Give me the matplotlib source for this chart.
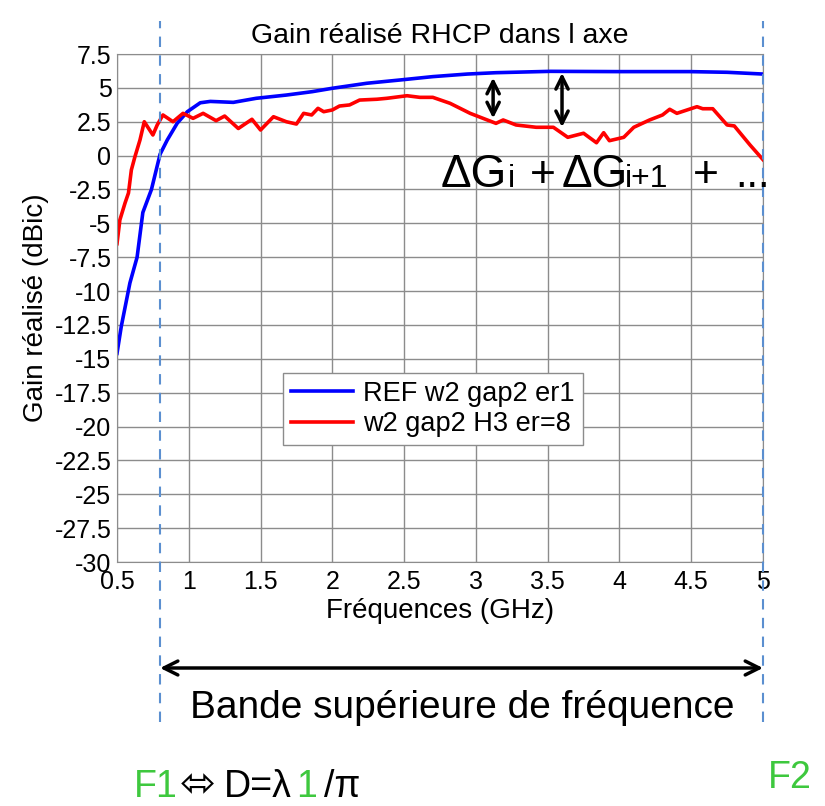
import numpy as np
import matplotlib
matplotlib.use("Agg")
import matplotlib.pyplot as plt

plt.rcParams['font.family'] = ['Liberation Sans', 'DejaVu Sans']
plt.rcParams['axes.unicode_minus'] = False

# REF w2 gap2 er1 (blue)
freq_ref = [0.5, 0.53, 0.59, 0.64, 0.68, 0.74, 0.8, 0.85, 0.92, 0.99,
            1.08, 1.15, 1.31, 1.47, 1.68, 1.86, 2.0, 2.24, 2.47, 2.7,
            2.94, 3.14, 3.52, 3.98, 4.49, 4.75, 5.0]
gain_ref = [-14.6, -12.6, -9.4, -7.5, -4.2, -2.5, 0.1, 1.15, 2.4, 3.24,
            3.9, 4.0, 3.93, 4.23, 4.47, 4.72, 4.97, 5.34, 5.58, 5.83,
            6.02, 6.12, 6.22, 6.2, 6.2, 6.15, 6.02]

# w2 gap2 H3 er=8 (red)
freq_h3 = [0.5, 0.52, 0.556, 0.58, 0.60, 0.625, 0.66, 0.69, 0.75, 0.78,
           0.82, 0.89, 0.96, 1.03, 1.10, 1.19, 1.25, 1.345, 1.44, 1.50,
           1.59, 1.68, 1.75, 1.80, 1.856, 1.90, 1.94, 2.0, 2.05, 2.12,
           2.19, 2.31, 2.38, 2.52, 2.61, 2.70, 2.82, 2.96, 3.05, 3.14,
           3.19, 3.28, 3.42, 3.54, 3.64, 3.75, 3.84, 3.89, 3.93, 4.03,
           4.10, 4.21, 4.30, 4.35, 4.40, 4.54, 4.58, 4.65, 4.75, 4.80,
           4.91, 5.0]
gain_h3 = [-6.5, -4.75, -3.5, -2.76, -1.06, -0.08, 1.15, 2.5, 1.52, 2.26,
           3.0, 2.5, 3.12, 2.75, 3.12, 2.58, 2.92, 2.0, 2.68, 1.89,
           2.87, 2.5, 2.33, 3.12, 3.0, 3.49, 3.24, 3.37, 3.66, 3.74,
           4.1, 4.16, 4.23, 4.42, 4.3, 4.3, 3.86, 3.12, 2.75, 2.38,
           2.63, 2.26, 2.09, 2.09, 1.35, 1.65, 0.95, 1.69, 1.1, 1.35,
           2.09, 2.63, 3.0, 3.42, 3.12, 3.61, 3.46, 3.46, 2.26, 2.19,
           0.78, -0.3]

x_ticks = [0.5, 1, 1.5, 2, 2.5, 3, 3.5, 4, 4.5, 5]
x_labels = ['0.5', '1', '1.5', '2', '2.5', '3', '3.5', '4', '4.5', '5']
y_ticks = [7.5, 5, 2.5, 0, -2.5, -5, -7.5, -10, -12.5, -15, -17.5, -20,
           -22.5, -25, -27.5, -30]
y_labels = ['7.5', '5', '2.5', '0', '-2.5', '-5', '-7.5', '-10', '-12.5', '-15',
            '-17.5', '-20', '-22.5', '-25', '-27.5', '-30']

# band limits F1 / F2 (GHz) and the two delta-gain arrows
f1, f2 = 0.8, 5.0
delta_arrows = [(3.12, 5.75, 2.75), (3.6, 6.1, 2.1)]

W, H = 825, 806
fig = plt.figure(figsize=(W / 100, H / 100), dpi=100)
ax = fig.add_axes([117 / W, 1 - 562 / H, 646 / W, 508 / H])

ax.plot(freq_ref, gain_ref, color='#0000ff', lw=2.6, label='REF w2 gap2 er1')
ax.plot(freq_h3, gain_h3, color='#ff0000', lw=2.6, label='w2 gap2 H3 er=8')

ax.set_xlim(0.5, 5)
ax.set_ylim(-30, 7.5)
ax.set_xticks(x_ticks)
ax.set_xticklabels(x_labels)
ax.set_yticks(y_ticks)
ax.set_yticklabels(y_labels)
ax.tick_params(length=0, labelsize=18)
ax.tick_params(axis='x', pad=6)
ax.tick_params(axis='y', pad=4)
ax.grid(True, color='#8c8c8c', lw=1)
for s in ax.spines.values():
    s.set_color('#8c8c8c')

ax.set_title('Gain réalisé RHCP dans l axe', fontsize=20.5, pad=8)
ax.set_xlabel('Fréquences (GHz)', fontsize=20, labelpad=3)
ax.set_ylabel('Gain réalisé (dBic)', fontsize=20, labelpad=4)

leg = ax.legend(loc='lower left', bbox_to_anchor=(0.257, 0.23), fontsize=19.5,
                fancybox=False, framealpha=1, edgecolor='#8c8c8c',
                handlelength=2.3, handletextpad=0.35, borderpad=0.3,
                labelspacing=0.15, borderaxespad=0)
leg.get_frame().set_linewidth(1)

# dashed band limits running past the axes
for f in (f1, f2):
    ax.axvline(f, ymin=-0.315, ymax=1.065, clip_on=False, color='#5b8fd0',
               lw=1.5, ls=(0, (5, 4)), zorder=5)

for x, top, bot in delta_arrows:
    ax.annotate('', xy=(x, top), xytext=(x, bot),
                arrowprops=dict(arrowstyle='<->', lw=2.5, color='black',
                                mutation_scale=22, shrinkA=0, shrinkB=0))

# Delta G text
yb = 1 - 187 / H
for txt, xp, sz in [('ΔG', 441, 33), ('i', 508, 23), ('+', 530, 32),
                    ('ΔG', 562, 33), ('i+1', 625, 23), ('+', 693, 32),
                    ('...', 735, 30)]:
    fig.text(xp / W, yb, txt, fontsize=sz, va='baseline', ha='left')

# band arrow + label
ax.annotate('', xy=(f1, 1 - 668 / H), xytext=(f2, 1 - 668 / H),
            xycoords=('data', 'figure fraction'),
            textcoords=('data', 'figure fraction'),
            arrowprops=dict(arrowstyle='<->', lw=2.5, color='black',
                            mutation_scale=25, shrinkA=0, shrinkB=0))
fig.text(462 / W, 1 - 718 / H, 'Bande supérieure de fréquence', fontsize=28,
         ha='center', va='baseline')

green = '#3ec83e'
yb2 = 1 - 797 / H
for txt, xp, sz, col in [('F1', 134, 27, green), ('⬄', 180, 31, 'black'),
                         ('D=λ', 224, 27, 'black'), ('1', 296, 27, green),
                         ('/π', 324, 27, 'black')]:
    fig.text(xp / W, yb2, txt, fontsize=sz, color=col, va='baseline', ha='left')
fig.text(768 / W, 1 - 788 / H, 'F2', fontsize=27, color=green, va='baseline',
         ha='left')

fig.savefig('out.png', dpi=100)
